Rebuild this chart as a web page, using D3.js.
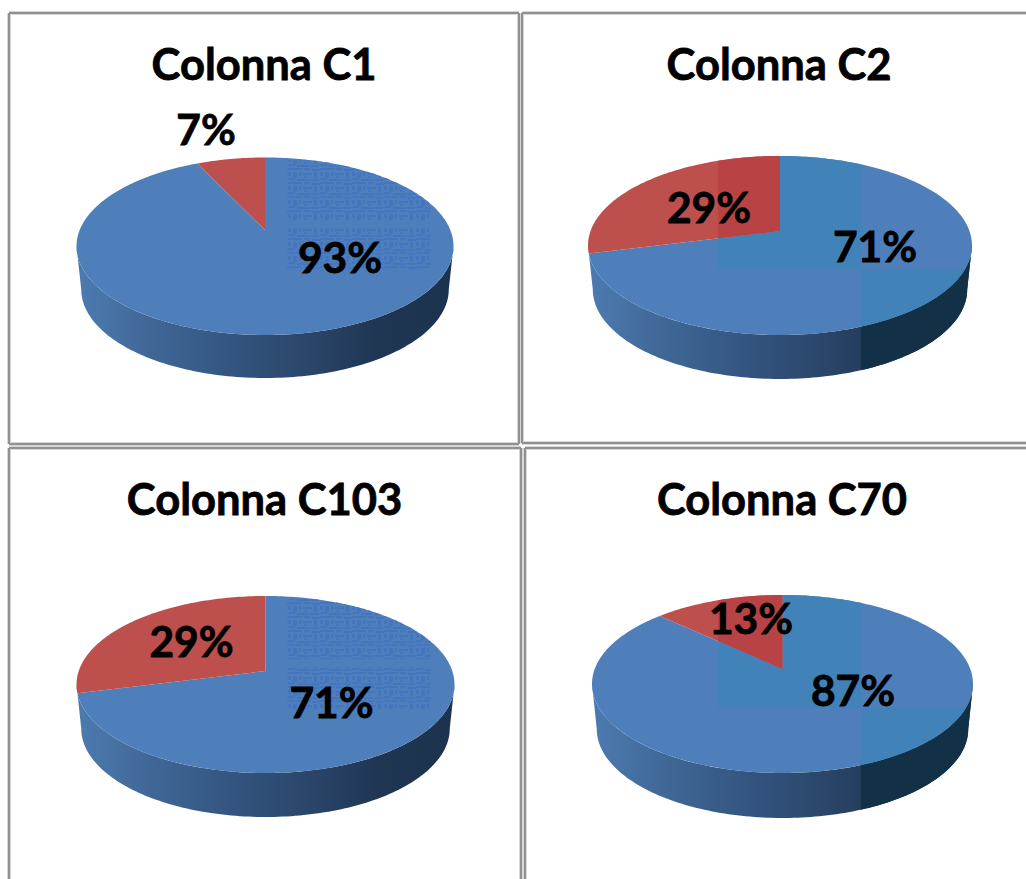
<!DOCTYPE html>
<html>
<head>
<meta charset="utf-8">
<script src="https://cdn.jsdelivr.net/npm/d3@7/dist/d3.min.js"></script>
<style>
html,body{margin:0;padding:0;background:#fff;overflow:hidden}
svg{display:block}
text{font-family:Lato,"Open Sans",sans-serif;font-weight:700;fill:#000;stroke:#000;stroke-width:.8px;text-anchor:middle}
</style>
</head>
<body>
<svg id="chart" width="1026" height="879"></svg>
<script>
// Values of each column: share of the two answers, in percent
const columns = ["Colonna C1", "Colonna C2", "Colonna C103", "Colonna C70"];
const blueShare = [93, 71, 71, 87];
const redShare  = [7, 29, 29, 13];

// Geometry of each tilted disc and where its captions sit
const discs = [
  {cx:265,   apexY:230, top:157.5, bottom:335, rx:188.5, wallBottom:378, mottled:true},
  {cx:780,   apexY:231, top:156,   bottom:335, rx:192,   wallBottom:379, tile:{x0:718,x1:861,y:269}},
  {cx:265.5, apexY:671, top:596,   bottom:773, rx:189,   wallBottom:817, mottled:true},
  {cx:782.5, apexY:669, top:595,   bottom:773, rx:190.5, wallBottom:818, tile:{x0:718,x1:861,y:708}}
];
const captions = [
  {title:[264,80],  blue:[340,273], red:[206,145]},
  {title:[779,80],  blue:[875,262], red:[709,223]},
  {title:[264.5,515], blue:[331.5,718], red:[191.5,657]},
  {title:[782,515], blue:[853,706], red:[751,634]}
];
// Table rules: [x1,y1,x2,y2]
const rules = [
  [9,13,519,13],[9,13,9,444],[9,444,519,444],[519,13,519,444],
  [522,13,1026,13],[522,13,522,443],[522,443,1026,443],
  [9,448,521,448],[9,448,9,879],[521,448,521,879],
  [525,448,1026,448],[525,448,525,879]
];

const BLUE = "#4f7fbb", RED = "#bd4f4c", TEAL = "#4183b9", DARK_RED = "#b94344", DARK_TEAL = "#123146";
const TITLE_SIZE = 43.5, LABEL_SIZE = 42.5;

const svg = d3.select("#chart");
const defs = svg.append("defs");

// Table grid
svg.append("g").selectAll("line").data(rules).join("line")
  .attr("x1",d=>d[0]).attr("y1",d=>d[1]).attr("x2",d=>d[2]).attr("y2",d=>d[3])
  .attr("stroke","#d6d6d6").attr("stroke-width",4);
svg.append("g").selectAll("line").data(rules).join("line")
  .attr("x1",d=>d[0]).attr("y1",d=>d[1]).attr("x2",d=>d[2]).attr("y2",d=>d[3])
  .attr("stroke","#919191").attr("stroke-width",2);

// Compression-style mottling used on the two left-hand discs
const mottle = defs.append("pattern").attr("id","mottle")
  .attr("patternUnits","userSpaceOnUse").attr("width",32).attr("height",14);
const mottleCells = [[0,0,14,2],[16,0,6,2],[24,1,8,2],[0,4,3,4],[5,4,4,6],[11,4,2,4],[15,5,9,2],[26,4,3,6],
                     [0,10,7,2],[9,11,12,2],[23,11,8,2],[16,8,3,2]];
mottle.selectAll("rect").data(mottleCells).join("rect")
  .attr("x",d=>d[0]).attr("y",d=>d[1]).attr("width",d=>d[2]).attr("height",d=>d[3])
  .attr("fill","#3a6fc2").attr("fill-opacity",.6);

const pie = d3.pie().sort(null).value(d=>d);
const line = d3.line();
const TAU = Math.PI*2;

columns.forEach((name,i)=>{
  const D = discs[i], C = captions[i];
  // Perspective of the disc: the near half is drawn larger than the far half
  const up = D.apexY-D.top, down = D.bottom-D.apexY;
  const k = (down-up)/(down+up), b = up*(1+k), a = D.rx*Math.sqrt(1-k*k);
  const project = (ang,scale=1,dy=0)=>{
    const u = Math.sin(ang), v = Math.cos(ang), w = 1+k*v;
    return [D.cx+scale*a*u/w, D.apexY+dy-b*v/w];
  };
  const sweep = (a0,a1,scale,dy)=>{
    const n = Math.max(2,Math.ceil(Math.abs(a1-a0)/0.02));
    return d3.range(n+1).map(j=>project(a0+(a1-a0)*j/n,scale,dy));
  };
  const g = svg.append("g");

  // Side wall, from the right extreme round the front to the left extreme
  const depth = D.wallBottom-D.bottom;
  const a0 = Math.PI/2+Math.asin(k), a1 = TAU-a0;
  const wallPath = line(sweep(a0,a1,1,0).concat(sweep(a1,a0,.975,depth)))+"Z";
  const gid = "wall"+i;
  const grad = defs.append("linearGradient").attr("id",gid).attr("gradientUnits","userSpaceOnUse")
    .attr("x1",D.cx-D.rx).attr("x2",D.cx+D.rx).attr("y1",0).attr("y2",0);
  [[0,"#4d7bb0"],[.2,"#3f6796"],[.42,"#33547f"],[.62,"#2a4569"],[.8,"#1f3653"],[1,"#1c3350"]]
    .forEach(s=>grad.append("stop").attr("offset",s[0]).attr("stop-color",s[1]));
  g.append("path").attr("d",wallPath).attr("fill",`url(#${gid})`);

  // Top face: one slice per share, clockwise from twelve o'clock
  const slices = pie([blueShare[i],redShare[i]]);
  const slicePath = s=>line([[D.cx,D.apexY]].concat(sweep(s.startAngle,s.endAngle,1,0)))+"Z";
  const faceColor = [BLUE,RED];
  g.selectAll("path.slice").data(slices).join("path").attr("class","slice")
    .attr("d",slicePath).attr("fill",(s,j)=>faceColor[j]);

  if (D.tile) {
    // Tinted rectangular blocks across the disc on the right-hand charts
    const T = D.tile;
    const clipFor = (id,x,y,w,h)=>{
      defs.append("clipPath").attr("id",id).append("rect")
        .attr("x",x).attr("y",y).attr("width",w).attr("height",h);
      return `url(#${id})`;
    };
    const upper = clipFor("upper"+i,T.x0,T.y-300,T.x1-T.x0,300);
    const lower = clipFor("lower"+i,T.x1,T.y,300,300);
    const wallR = clipFor("wallr"+i,T.x1,T.y-300,300,600);
    const redR  = clipFor("redr"+i,T.x0,T.y-300,300,600);
    g.append("path").attr("d",wallPath).attr("fill",DARK_TEAL).attr("clip-path",wallR);
    g.append("path").attr("d",slicePath(slices[0])).attr("fill",TEAL).attr("clip-path",upper);
    g.append("path").attr("d",slicePath(slices[0])).attr("fill",TEAL).attr("clip-path",lower);
    g.append("path").attr("d",slicePath(slices[1])).attr("fill",DARK_RED).attr("clip-path",redR);
  }
  if (D.mottled) {
    const y0 = D.top+3;
    const id = "blocks"+i;
    const cp = defs.append("clipPath").attr("id",id);
    cp.append("rect").attr("x",287).attr("y",y0).attr("width",144).attr("height",60);
    cp.append("rect").attr("x",287).attr("y",y0+68).attr("width",144).attr("height",42);
    g.append("g").attr("clip-path",`url(#${id})`).append("path")
      .attr("d",slicePath(slices[0])).attr("fill","url(#mottle)");
  }

  // Captions
  g.append("text").attr("x",C.title[0]).attr("y",C.title[1]).attr("font-size",TITLE_SIZE).text(name);
  g.append("text").attr("x",C.blue[0]).attr("y",C.blue[1]).attr("font-size",LABEL_SIZE).text(blueShare[i]+"%");
  g.append("text").attr("x",C.red[0]).attr("y",C.red[1]).attr("font-size",LABEL_SIZE).text(redShare[i]+"%");
});
</script>
</body>
</html>
